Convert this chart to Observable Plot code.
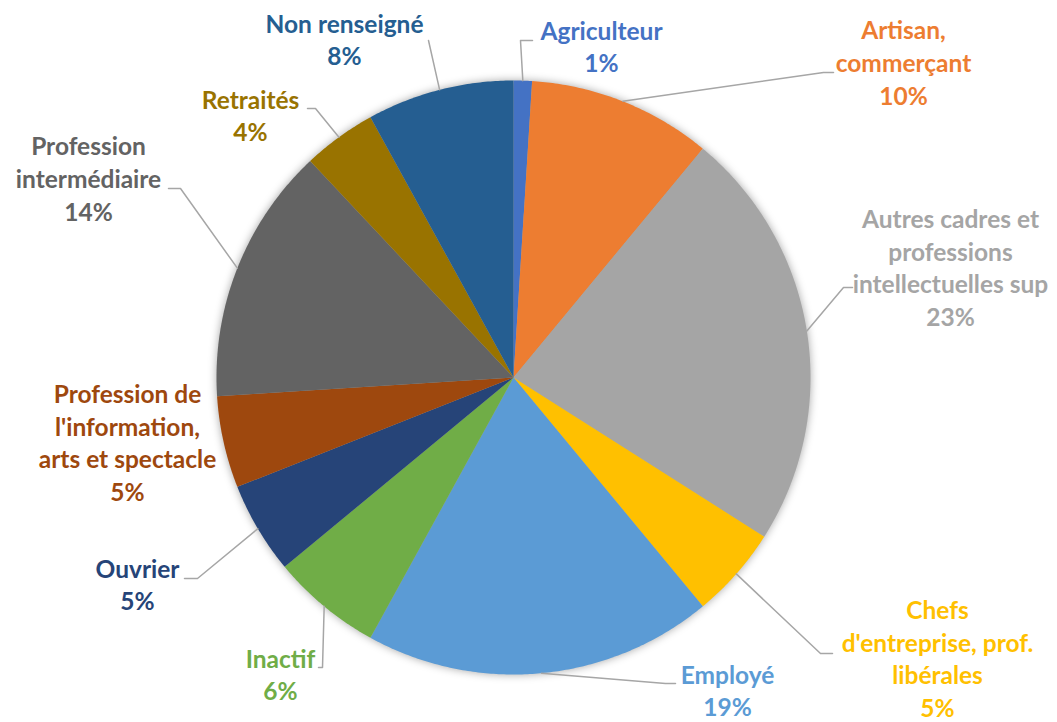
<!DOCTYPE html>
<html><head><meta charset="utf-8">
<script src="https://cdn.jsdelivr.net/npm/d3@7"></script>
<script src="https://cdn.jsdelivr.net/npm/@observablehq/plot@0.6"></script>
<style>
body{margin:0;background:#fff;}
#chart svg{display:block;}
</style>
</head><body><div id="chart"></div>
<script>
// ---- data ----
const categories = ["Agriculteur","Artisan, commerçant","Autres cadres et professions intellectuelles sup","Chefs d'entreprise, prof. libérales","Employé","Inactif","Ouvrier","Profession de l'information, arts et spectacle","Profession intermédiaire","Retraités","Non renseigné"];
const shares = [1,10,23,5,19,6,5,5,14,4,8];
const labelText = ["Agriculteur","Artisan,\ncommerçant","Autres cadres et\nprofessions\nintellectuelles sup","Chefs\nd'entreprise, prof.\nlibérales","Employé","Inactif","Ouvrier","Profession de\nl'information,\narts et spectacle","Profession\nintermédiaire","Retraités","Non renseigné"];
const colors = ["#4472C4","#ED7D31","#A5A5A5","#FFC000","#5B9BD5","#70AD47","#264478","#9E480E","#636363","#997300","#255E91"];

// ---- layout (pixels) ----
const W = 1057, H = 722, CX = 513, CY = 377, R = 297;
const labelX = [601, 903, 950, 937, 727, 280, 137, 127, 88, 250, 344];
const labelY = [45, 61, 266, 657, 689, 673, 583, 441, 177, 114, 38];
// leader elbow and end points (null = no leader)
const leaderElbow = [[520,40],[823,72],[843,287],[820,653],[665,683],[322,667],[197,578],null,[180,188],[315,108],[428,40]];
const leaderEnd   = [[532,40],[833,72],[852,287],[832,653],[675,683],[318,667],[184,578],null,[168,188],[307,108],null];

const total = d3.sum(shares);
let acc = 0;
const slices = categories.map((c, i) => {
  const a0 = acc / total * 2 * Math.PI;
  acc += shares[i];
  const a1 = acc / total * 2 * Math.PI;
  return {category: c, value: shares[i], a0, a1, mid: (a0 + a1) / 2};
});
const px = a => CX + R * Math.sin(a);
const py = a => CY - R * Math.cos(a);

const slicePts = [];
for (const s of slices) {
  slicePts.push({category: s.category, x: CX, y: CY});
  const n = Math.max(4, Math.ceil((s.a1 - s.a0) / (Math.PI / 360)));
  for (let k = 0; k <= n; k++) {
    const a = s.a0 + (s.a1 - s.a0) * k / n;
    slicePts.push({category: s.category, x: px(a), y: py(a)});
  }
}

const leaderPts = [];
slices.forEach((s, i) => {
  if (!leaderElbow[i]) return;
  leaderPts.push({category: s.category, x: px(s.mid), y: py(s.mid)});
  leaderPts.push({category: s.category, x: leaderElbow[i][0], y: leaderElbow[i][1]});
  if (leaderEnd[i]) leaderPts.push({category: s.category, x: leaderEnd[i][0], y: leaderEnd[i][1]});
});

const labels = slices.map((s, i) => ({
  category: s.category,
  x: labelX[i], y: labelY[i],
  text: labelText[i] + "\n" + s.value + "%"
}));

const chart = Plot.plot({
  width: W, height: H,
  margin: 0,
  x: {domain: [0, W], range: [0, W], axis: null},
  y: {domain: [0, H], range: [0, H], axis: null},
  color: {domain: categories, range: colors},
  style: {background: "#fff"},
  marks: [
    Plot.line(slicePts, {x: "x", y: "y", z: "category", fill: "category", stroke: "none", curve: "linear"}),
    Plot.line(leaderPts, {x: "x", y: "y", z: "category", stroke: "#A6A6A6", strokeWidth: 1.5, curve: "linear"}),
    Plot.text(labels, {x: "x", y: "y", text: "text", fill: "category", fontSize: 24.5, fontWeight: "bold", fontFamily: "Lato", lineHeight: 1.33, textAnchor: "middle", lineAnchor: "middle"})
  ]
});
document.getElementById("chart").appendChild(chart);
// soft shadow around the pie
const g = chart.querySelectorAll('g[aria-label="line"]')[0];
if (g) g.style.filter = "drop-shadow(0px 0px 4px rgba(0,0,0,0.35))";
</script>
</body></html>
